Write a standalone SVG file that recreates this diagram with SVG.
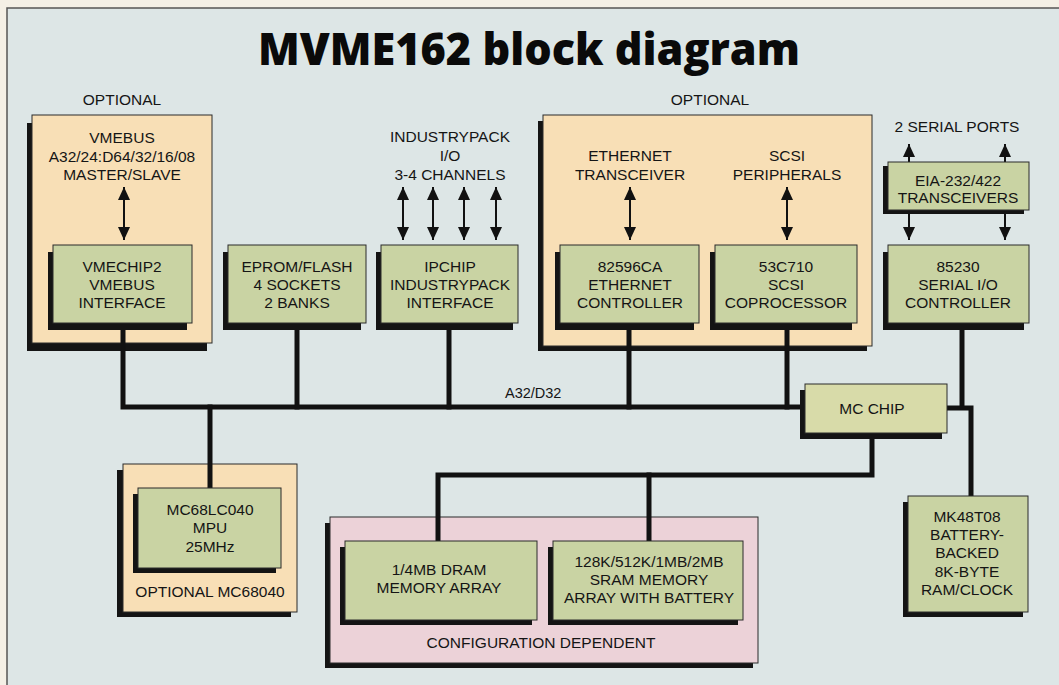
<svg xmlns="http://www.w3.org/2000/svg" width="1059" height="685" viewBox="0 0 1059 685">
<defs>
<marker id="ah" viewBox="0 0 13 12" refX="13" refY="6" markerWidth="13" markerHeight="12" markerUnits="userSpaceOnUse" orient="auto-start-reverse">
<path d="M0,0 L13,6 L0,12 z" fill="#111"/>
</marker>
</defs>
<style>
.bg{fill:#dde6e6}
.sh{fill:#141414}
.grn{fill:#c9d3a3;stroke:#2a2a2a;stroke-width:1}
.mc{fill:#d8dba9;stroke:#2a2a2a;stroke-width:1}
.org{fill:#f8dfb6;stroke:#2a2a2a;stroke-width:1}
.pnk{fill:#ecd2d8;stroke:#2a2a2a;stroke-width:1}
.t{font-family:"Liberation Sans",Arial,sans-serif;font-size:15.5px;fill:#151515;text-anchor:middle}
.bus{fill:none;stroke:#111;stroke-width:5;stroke-linejoin:miter;stroke-linecap:square}
.arr{fill:none;stroke:#111;stroke-width:2}
</style>
<rect x="0" y="0" width="1059" height="685" fill="#f4f0e6"/>
<rect x="7" y="8" width="1060" height="690" class="bg" stroke="#555" stroke-width="1.5"/>
<text x="529" y="65" font-family="'Open Sans','DejaVu Sans',sans-serif" font-weight="800" font-size="45" fill="#0a0a0a" text-anchor="middle" textLength="542" lengthAdjust="spacingAndGlyphs">MVME162 block diagram</text>

<g id="opt-vme">
<rect x="27" y="123" width="180" height="228" class="sh"/>
<rect x="32" y="115" width="180" height="228" class="org"/>
<text x="122" y="105" class="t">OPTIONAL</text>
<text x="122" y="143" class="t">VMEBUS</text>
<text x="122" y="162" class="t">A32/24:D64/32/16/08</text>
<text x="122" y="180" class="t">MASTER/SLAVE</text>
</g>
<g id="opt-eth">
<rect x="538" y="121" width="329" height="230" class="sh"/>
<rect x="543" y="115" width="329" height="231" class="org"/>
<text x="710" y="105" class="t">OPTIONAL</text>
<text x="630" y="161" class="t">ETHERNET</text>
<text x="630" y="180" class="t">TRANSCEIVER</text>
<text x="787" y="161" class="t">SCSI</text>
<text x="787" y="180" class="t">PERIPHERALS</text>
</g>
<g id="opt-mpu">
<rect x="117" y="470" width="174" height="147" class="sh"/>
<rect x="123" y="464" width="174" height="148" class="org"/>
<text x="210" y="597" class="t">OPTIONAL MC68040</text>
</g>
<g id="config">
<rect x="325" y="523" width="428" height="145" class="sh"/>
<rect x="330" y="517" width="428" height="146" class="pnk"/>
<text x="541" y="648" class="t">CONFIGURATION DEPENDENT</text>
</g>

<g id="connectors">
<path class="bus" d="M123,323 V407 H800"/>
<path class="bus" d="M297,323 V407"/>
<path class="bus" d="M449,323 V407"/>
<path class="bus" d="M629,323 V407"/>
<path class="bus" d="M787,323 V407"/>
<path class="bus" d="M210,407 V488"/>
<path class="bus" d="M872,433 V475 H438 V541"/>
<path class="bus" d="M649,475 V541"/>
<path class="bus" d="M962,323 V407"/>
<path class="bus" d="M947,408 H971 V496"/>
<text x="505" y="398" class="t" style="text-anchor:start;font-size:14.5px">A32/D32</text>
<line class="arr" x1="124" y1="187" x2="124" y2="240" marker-start="url(#ah)" marker-end="url(#ah)"/>
<line class="arr" x1="403" y1="187" x2="403" y2="240" marker-start="url(#ah)" marker-end="url(#ah)"/>
<line class="arr" x1="433" y1="187" x2="433" y2="240" marker-start="url(#ah)" marker-end="url(#ah)"/>
<line class="arr" x1="464" y1="187" x2="464" y2="240" marker-start="url(#ah)" marker-end="url(#ah)"/>
<line class="arr" x1="496" y1="187" x2="496" y2="240" marker-start="url(#ah)" marker-end="url(#ah)"/>
<line class="arr" x1="630" y1="187" x2="630" y2="240" marker-start="url(#ah)" marker-end="url(#ah)"/>
<line class="arr" x1="787" y1="187" x2="787" y2="240" marker-start="url(#ah)" marker-end="url(#ah)"/>
<line class="arr" x1="909" y1="162" x2="909" y2="144" marker-end="url(#ah)"/>
<line class="arr" x1="1005" y1="162" x2="1005" y2="144" marker-end="url(#ah)"/>
<line class="arr" x1="909" y1="213" x2="909" y2="240" marker-end="url(#ah)"/>
<line class="arr" x1="1005" y1="213" x2="1005" y2="240" marker-end="url(#ah)"/>
</g>

<g id="industrypack-io">
<text x="450" y="142" class="t">INDUSTRYPACK</text>
<text x="450" y="161" class="t">I/O</text>
<text x="450" y="180" class="t">3-4 CHANNELS</text>
</g>
<g id="serial-ports">
<text x="957" y="132" class="t">2 SERIAL PORTS</text>
</g>

<g id="vmechip2">
<rect x="48" y="252" width="139" height="78" class="sh"/>
<rect x="53" y="245" width="139" height="78" class="grn"/>
<text x="122" y="272" class="t">VMECHIP2</text>
<text x="122" y="290" class="t">VMEBUS</text>
<text x="122" y="308" class="t">INTERFACE</text>
</g>
<g id="eprom">
<rect x="223" y="252" width="138" height="78" class="sh"/>
<rect x="228" y="245" width="138" height="78" class="grn"/>
<text x="297" y="272" class="t">EPROM/FLASH</text>
<text x="297" y="290" class="t">4 SOCKETS</text>
<text x="297" y="308" class="t">2 BANKS</text>
</g>
<g id="ipchip">
<rect x="376" y="252" width="137" height="78" class="sh"/>
<rect x="381" y="245" width="137" height="78" class="grn"/>
<text x="450" y="272" class="t">IPCHIP</text>
<text x="450" y="290" class="t">INDUSTRYPACK</text>
<text x="450" y="308" class="t">INTERFACE</text>
</g>
<g id="eth-ctrl">
<rect x="555" y="252" width="139" height="78" class="sh"/>
<rect x="560" y="245" width="139" height="78" class="grn"/>
<text x="630" y="272" class="t">82596CA</text>
<text x="630" y="290" class="t">ETHERNET</text>
<text x="630" y="308" class="t">CONTROLLER</text>
</g>
<g id="scsi">
<rect x="710" y="252" width="142" height="78" class="sh"/>
<rect x="715" y="245" width="142" height="78" class="grn"/>
<text x="786" y="272" class="t">53C710</text>
<text x="786" y="290" class="t">SCSI</text>
<text x="786" y="308" class="t">COPROCESSOR</text>
</g>
<g id="eia">
<rect x="883" y="166" width="141" height="48" class="sh"/>
<rect x="888" y="162" width="141" height="48" class="grn"/>
<text x="958" y="186" class="t">EIA-232/422</text>
<text x="958" y="203" class="t">TRANSCEIVERS</text>
</g>
<g id="serial-ctrl">
<rect x="883" y="252" width="141" height="78" class="sh"/>
<rect x="888" y="245" width="141" height="78" class="grn"/>
<text x="958" y="272" class="t">85230</text>
<text x="958" y="290" class="t">SERIAL I/O</text>
<text x="958" y="308" class="t">CONTROLLER</text>
</g>
<g id="mc-chip">
<rect x="800" y="390" width="142" height="49" class="sh"/>
<rect x="805" y="384" width="142" height="49" class="mc"/>
<text x="872" y="414" class="t">MC CHIP</text>
</g>
<g id="mpu">
<rect x="133" y="494" width="143" height="79" class="sh"/>
<rect x="138" y="488" width="143" height="80" class="grn"/>
<text x="210" y="515" class="t">MC68LC040</text>
<text x="210" y="533" class="t">MPU</text>
<text x="210" y="552" class="t">25MHz</text>
</g>
<g id="dram">
<rect x="340" y="547" width="192" height="78" class="sh"/>
<rect x="345" y="541" width="192" height="79" class="grn"/>
<text x="439" y="575" class="t">1/4MB DRAM</text>
<text x="439" y="593" class="t">MEMORY ARRAY</text>
</g>
<g id="sram">
<rect x="548" y="547" width="190" height="78" class="sh"/>
<rect x="553" y="541" width="190" height="79" class="grn"/>
<text x="649" y="567" class="t">128K/512K/1MB/2MB</text>
<text x="649" y="585" class="t">SRAM MEMORY</text>
<text x="649" y="603" class="t">ARRAY WITH BATTERY</text>
</g>
<g id="rtc">
<rect x="903" y="502" width="120" height="115" class="sh"/>
<rect x="908" y="496" width="120" height="116" class="grn"/>
<text x="967" y="522" class="t">MK48T08</text>
<text x="967" y="540" class="t">BATTERY-</text>
<text x="967" y="558" class="t">BACKED</text>
<text x="967" y="577" class="t">8K-BYTE</text>
<text x="967" y="595" class="t">RAM/CLOCK</text>
</g>
</svg>
